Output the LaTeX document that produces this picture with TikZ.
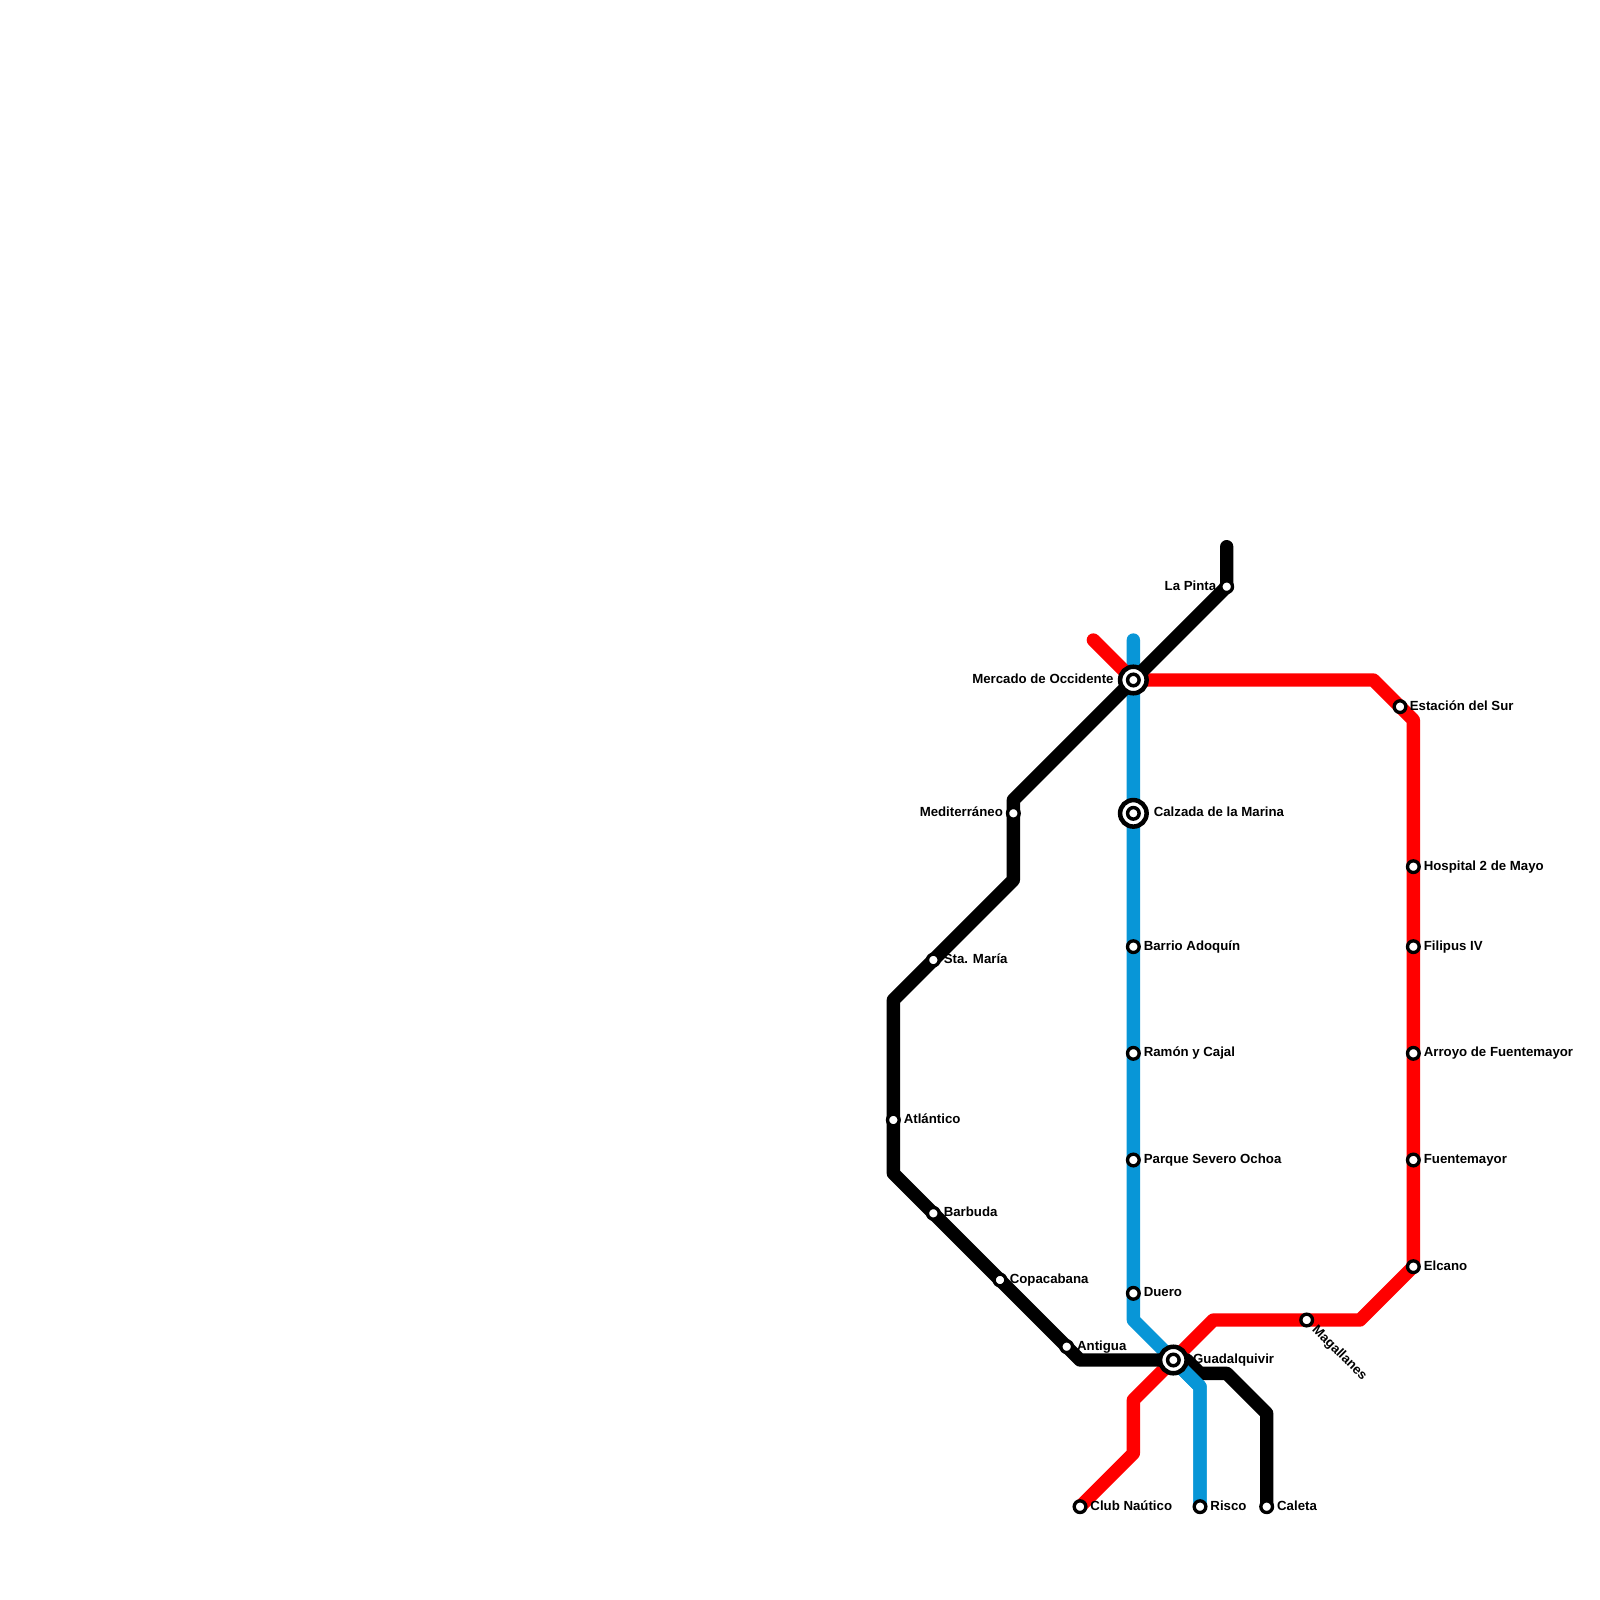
\documentclass[tikz,border=0pt]{standalone}
\usepackage{fontspec}
\setmainfont{Liberation Sans}
\tikzset{
  x=0.2cm,y=-0.2cm,
  metro/.style={line width=0.2cm,line join=round,line cap=round},
  blackline/.style={metro,draw=black},
  redline/.style={metro,draw=mred},
  blueline/.style={metro,draw=mblue},
  stn/.style={circle,draw=black,fill=white,line width=0.5mm,minimum size=1.75mm,inner sep=0pt,outer sep=0pt},
  hub/.style={circle,draw=black,fill=white,line width=0.68mm,minimum size=3.98mm,inner sep=0pt,outer sep=0pt},
  hubin/.style={circle,draw=black,fill=white,line width=0.52mm,minimum size=1.73mm,inner sep=0pt,outer sep=0pt},
  lab/.style={font=\fontsize{5.65pt}{6pt}\selectfont\bfseries,inner sep=0pt,text=black},
  labr/.style={lab,anchor=base west},
  labl/.style={lab,anchor=base east},
}
\definecolor{mred}{HTML}{FF0000}
\definecolor{mblue}{HTML}{0896D7}
\begin{document}
\begin{tikzpicture}
\useasboundingbox (0,0) rectangle (120,120);
\coordinate (bA) at (92,41);
\coordinate (b0) at (92,44);
\coordinate (b1) at (76,60);
\coordinate (b2) at (76,66);
\coordinate (b3) at (67,75);
\coordinate (b4) at (67,88);
\coordinate (b5) at (81,102);
\coordinate (b6a) at (89,102);
\coordinate (b6) at (90,103);
\coordinate (b7) at (92,103);
\coordinate (b8) at (95,106);
\coordinate (rA) at (82,48);
\coordinate (r1) at (103,51);
\coordinate (r2) at (106,54);
\coordinate (r3) at (102,99);
\coordinate (r4) at (91,99);
\coordinate (r5) at (85,105);
\coordinate (r6) at (85,109);
\coordinate (uA) at (85,48);
\coordinate (u1) at (85,99);
\coordinate (u2) at (90,104);
\coordinate (mercado) at (85,51);
\coordinate (guada) at (88,102);
\coordinate (caleta) at (95,113);
\coordinate (risco) at (90,113);
\coordinate (club) at (81,113);
\coordinate (elcano) at (106,95);
\draw[blueline] (uA) -- (mercado) -- (u1) -- (guada) -- (u2) -- (risco);
\draw[redline] (rA) -- (mercado) -- (r1) -- (r2) -- (elcano) -- (r3) -- (r4) -- (guada) -- (r5) -- (r6) -- (club);
\draw[blackline] (bA) -- (b0) -- (mercado) -- (b1) -- (b2) -- (b3) -- (b4) -- (b5) -- (guada) -- (b6a) -- (b6) -- (b7) -- (b8) -- (caleta);
\draw[blueline] (guada) -- (u2) -- (risco);
\foreach \n/\x/\y in {lapinta/92/44,medit/76/61,stamaria/70/72,atlantico/67/84,barbuda/70/91,copa/75/96,antigua/80/101,sur/105/53,hospital/106/65,filipus/106/71,arroyo/106/79,fuente/106/87,elc/106/95,maga/98/99,barrio/85/71,ramon/85/79,parque/85/87,duero/85/97,clubn/81/113,riscon/90/113,caletan/95/113}
  \node[stn] (\n) at (\x,\y) {};
\foreach \n/\x/\y in {merc/85/51,calz/85/61,guad/88/102}{
  \node[hub] (\n) at (\x,\y) {};
  \node[hubin] (\n i) at (\x,\y) {};
}
\node[labl] (t1) at (91.25,44.25) {La Pinta};
\node[labl] (t2) at (83.55,51.25) {Mercado de Occidente};
\node[labl] (t3) at (75.25,61.25) {Mediterráneo};
\node[labr] (t4) at (86.5,61.25) {Calzada de la Marina};
\node[labr] (t5) at (105.7,53.25) {Estación del Sur};
\node[labr] (t6) at (106.75,65.25) {Hospital 2 de Mayo};
\node[labr] (t7) at (106.75,71.25) {Filipus IV};
\node[labr] (t8) at (106.75,79.25) {Arroyo de Fuentemayor};
\node[labr] (t9) at (106.75,87.25) {Fuentemayor};
\node[labr] (t10) at (106.75,95.25) {Elcano};
\node[labr] (t11) at (85.75,71.25) {Barrio Adoquín};
\node[labr] (t12) at (85.75,79.25) {Ramón y Cajal};
\node[labr] (t13) at (85.75,87.25) {Parque Severo Ochoa};
\node[labr] (t14) at (85.75,97.25) {Duero};
\node[labr] (t15) at (70.75,72.25) {Sta. María};
\node[labr] (t16) at (67.75,84.25) {Atlántico};
\node[labr] (t17) at (70.75,91.25) {Barbuda};
\node[labr] (t18) at (75.7,96.25) {Copacabana};
\node[labr] (t19) at (80.75,101.25) {Antigua};
\node[labr] (t20) at (89.45,102.25) {Guadalquivir};
\node[labr] (t21) at (81.75,113.25) {Club Naútico};
\node[labr] (t22) at (90.75,113.25) {Risco};
\node[labr] (t23) at (95.75,113.25) {Caleta};
\node[labr,rotate=-45] (t24) at (98.35,99.75) {Magallanes};
\end{tikzpicture}
\end{document}
